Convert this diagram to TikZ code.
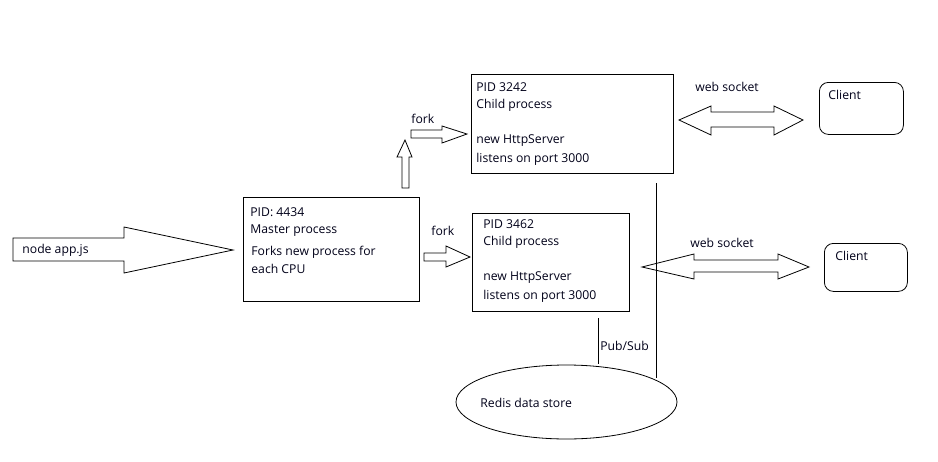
\documentclass[tikz,border=0pt]{standalone}
\usepackage{fontspec}
\setmainfont{Open Sans}
\usetikzlibrary{shapes.geometric}
\begin{document}
\begin{tikzpicture}[x=1pt,y=-1pt,line width=0.8pt,
  every node/.style={font=\fontsize{12.2}{14}\selectfont, text=black!90!blue, inner sep=0pt},
  txt/.style={anchor=west},
  boxed/.style={draw, fill=white},
  blockarrow/.style={draw, fill=white, line join=miter}]
\useasboundingbox (0,0) rectangle (938,461);
% boxes
\node[boxed, minimum width=176pt, minimum height=104pt, anchor=north west] (master) at (243,197) {};
\node[boxed, minimum width=202pt, minimum height=99pt, anchor=north west] (child1) at (471,74) {};
\node[boxed, minimum width=157pt, minimum height=98pt, anchor=north west] (child2) at (472,213) {};
\node[draw, rounded corners=9pt, minimum width=84pt, minimum height=52pt, anchor=north west] (client1) at (819,82) {};
\node[draw, rounded corners=9pt, minimum width=83pt, minimum height=48pt, anchor=north west] (client2) at (824,243) {};
\node[draw, ellipse, minimum width=221pt, minimum height=74pt] (redis) at (566.5,402) {};
% texts
\node[txt] (m1) at (250,212) {PID: 4434};
\node[txt] (m2) at (250,231) {Master process};
\node[txt] (m3) at (251,252) {Forks new process for};
\node[txt] (m4) at (251,269) {each CPU};
\node[txt] (c11) at (476,87) {PID 3242};
\node[txt] (c12) at (476,105) {Child process};
\node[txt] (c13) at (476,141) {new HttpServer};
\node[txt] (c14) at (476,159) {listens on port 3000};
\node[txt] (c21) at (483,224) {PID 3462};
\node[txt] (c22) at (483,242) {Child process};
\node[txt] (c23) at (483,278) {new HttpServer};
\node[txt] (c24) at (483,296) {listens on port 3000};
\node[txt] (cl1) at (828,95) {Client};
\node[txt] (cl2) at (835,256) {Client};
\node[txt] (rd) at (480,403) {Redis data store};
\node[txt] (f1) at (431,231) {fork};
\node[txt] (f2) at (411,119) {fork};
\node[txt] (ws1) at (695,87) {web socket};
\node[txt] (ws2) at (690,243) {web socket};
\node[txt] (ps) at (600,346) {Pub/Sub};
% big input arrow
\draw[blockarrow] (13,238) -- (124,238) -- (124,227) -- (233,250) -- (124,273) -- (124,261) -- (13,261) -- cycle;
\node[txt] (app) at (22,250) {node app.js};
% fork arrow to child2
\draw[blockarrow] (424,253) -- (446,253) -- (446,246) -- (470,257) -- (446,267) -- (446,261) -- (424,261) -- cycle;
% upward arrow
\draw[blockarrow] (402,188) -- (402,157) -- (397,157) -- (405,140) -- (412,157) -- (409,157) -- (409,188) -- cycle;
% fork arrow to child1
\draw[blockarrow] (411,130) -- (442,130) -- (442,126) -- (467,134) -- (442,143) -- (442,138) -- (411,138) -- cycle;
% vertical line
\coordinate (vt) at (656,183);
\coordinate (vb) at (656,378);
\draw (vt) -- (vb);
% web socket arrows
\draw[blockarrow, fill=none] (679,120) -- (711,106) -- (711,112) -- (774,112) -- (774,106) -- (803,120) -- (774,135) -- (774,127) -- (711,127) -- (711,135) -- cycle;
\draw[blockarrow, fill=none] (642,267) -- (694,254) -- (694,260) -- (778,260) -- (778,254) -- (809,267) -- (778,279) -- (778,272) -- (694,272) -- (694,279) -- cycle;
% pub/sub line
\coordinate (pt) at (598,318);
\coordinate (pb) at (598,364);
\draw (pt) -- (pb);
\end{tikzpicture}
\end{document}
